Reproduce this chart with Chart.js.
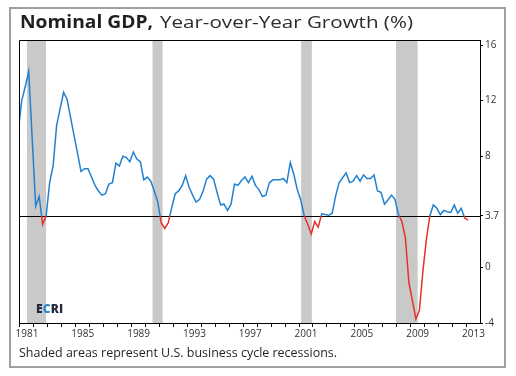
<!DOCTYPE html>
<html>
<head>
<meta charset="utf-8">
<script src="https://cdn.jsdelivr.net/npm/chart.js@4.4.0/dist/chart.umd.min.js"></script>
<style>
  html, body { margin: 0; padding: 0; background: #fff; }
  #wrap { position: relative; width: 516px; height: 376px; overflow: hidden; background: #fff; }
  #frame { position: absolute; left: 9px; top: 7px; width: 497px; height: 361px; border: 2px solid #a0a0a0; box-sizing: border-box; }
  #chart { position: absolute; left: 0; top: 0; }
  .fit { position: absolute; white-space: nowrap; transform-origin: 0 50%; font-family: "Open Sans", sans-serif; color: #231f20; }
  #t1 { left: 20px; top: 11px; font-size: 17px; line-height: 22px; font-weight: 700; }
  #t2 { left: 160px; top: 11px; font-size: 17px; line-height: 22px; font-weight: 400; color: #2b2b2b; }
  #note { left: 19px; top: 343px; font-size: 13px; line-height: 18px; font-weight: 400; }
  #ecri { position: absolute; left: 36px; top: 302px; font-family: "Open Sans", sans-serif; font-size: 12px; font-weight: 800; line-height: 14px; color: #232b3b; letter-spacing: 0.2px; }
  #ecri i { font-style: normal; color: #2a8ad6; }
</style>
</head>
<body>
<div id="wrap">
  <canvas id="chart" width="516" height="376"></canvas>
  <div id="frame"></div>
  <div id="t1" class="fit" data-w="133">Nominal GDP,</div>
  <div id="t2" class="fit" data-w="253">Year-over-Year Growth (%)</div>
  <div id="ecri">E<i>C</i>RI</div>
  <div id="note" class="fit" data-w="318">Shaded areas represent U.S. business cycle recessions.</div>
</div>
<script>
// ---- Data (quarterly, 1980Q4 .. 2013Q1) ----
const firstYear = 1980, firstQuarter = 4;
const gdpGrowth = [
  9.8,
  12.0, 13.0, 14.1, 9.3,    // 1981
  4.4, 5.1, 3.1, 3.7,       // 1982
  6.1, 7.3, 10.2, 11.4,     // 1983
  12.6, 12.1, 10.8, 9.5,    // 1984
  8.2, 6.9, 7.1, 7.1,       // 1985
  6.5, 5.9, 5.5, 5.2,       // 1986
  5.3, 6.0, 6.1, 7.5,       // 1987
  7.3, 8.0, 7.9, 7.6,       // 1988
  8.3, 7.8, 7.6, 6.3,       // 1989
  6.5, 6.2, 5.5, 4.7,       // 1990
  3.2, 2.8, 3.2, 4.3,       // 1991
  5.3, 5.5, 5.9, 6.6,       // 1992
  5.75, 5.2, 4.7, 4.9,      // 1993
  5.5, 6.35, 6.6, 6.35,     // 1994
  5.4, 4.5, 4.55, 4.1,      // 1995
  4.55, 6.0, 5.9, 6.25,     // 1996
  6.5, 6.1, 6.55, 5.9,      // 1997
  5.6, 5.1, 5.2, 6.1,       // 1998
  6.3, 6.3, 6.3, 6.4,       // 1999
  6.1, 7.55, 6.7, 5.6,      // 2000
  4.85, 3.7, 3.1, 2.4,      // 2001
  3.3, 2.9, 3.85, 3.8,      // 2002
  3.75, 3.9, 5.15, 6.1,     // 2003
  6.45, 6.8, 6.1, 6.2,      // 2004
  6.6, 6.2, 6.65, 6.4,      // 2005
  6.4, 6.65, 5.5, 5.4,      // 2006
  4.55, 4.85, 5.2, 4.9,     // 2007
  3.8, 3.3, 2.1, -1.1,      // 2008
  -2.4, -3.7, -3.1, -0.3,   // 2009
  2.0, 3.7, 4.5, 4.25,      // 2010
  3.8, 4.1, 4.0, 3.95,      // 2011
  4.5, 3.9, 4.25, 3.55,     // 2012
  3.4                       // 2013
];
// Recessions (decimal years)
const recessionStart = [1981.5, 1990.5, 2001.15, 2007.95];
const recessionEnd   = [1982.87, 1991.22, 2001.92, 2009.5];
// Tick labels
const yTickValues = [-4, 0, 3.7, 8, 12, 16];
const xYears = [];
for (let y = 1981; y <= 2013; y++) xYears.push(y);
const xLabelYears = [1981, 1985, 1989, 1993, 1997, 2001, 2005, 2009, 2013];
const threshold = 3.7;

// fit text blocks horizontally to the reference widths
document.querySelectorAll('.fit').forEach(el => {
  const w = el.getBoundingClientRect().width;
  const target = parseFloat(el.dataset.w);
  if (w > 0) el.style.transform = 'scaleX(' + (target / w) + ')';
});

// quarter midpoints as decimal years
const quarterTimes = gdpGrowth.map((_, i) => {
  const qIndex = (firstQuarter - 1) + i;
  return firstYear + Math.floor(qIndex / 4) + ((qIndex % 4) + 0.5) / 4;
});
const points = gdpGrowth.map((v, i) => ({ x: quarterTimes[i], y: v }));

const BLUE = '#2180d0', RED = '#e5322a', SHADE = '#c9c9c9';

const bgPlugin = {
  id: 'bg',
  beforeDatasetsDraw(chart) {
    const { ctx, chartArea: a, scales: { x, y } } = chart;
    ctx.save();
    ctx.fillStyle = SHADE;
    for (let i = 0; i < recessionStart.length; i++) {
      const x1 = x.getPixelForValue(recessionStart[i]);
      const x2 = x.getPixelForValue(recessionEnd[i]);
      ctx.fillRect(x1, a.top, x2 - x1, a.bottom - a.top);
    }
    const yy = Math.round(y.getPixelForValue(threshold)) + 0.5;
    ctx.strokeStyle = '#000';
    ctx.lineWidth = 1;
    ctx.beginPath();
    ctx.moveTo(a.left, yy);
    ctx.lineTo(a.right, yy);
    ctx.stroke();
    ctx.restore();
  },
  afterDraw(chart) {
    const { ctx, chartArea: a } = chart;
    ctx.save();
    ctx.strokeStyle = '#000';
    ctx.lineWidth = 1;
    ctx.beginPath();
    ctx.moveTo(Math.round(a.left) + 0.5, a.bottom);
    ctx.lineTo(Math.round(a.left) + 0.5, Math.round(a.top) + 0.5);
    ctx.lineTo(a.right, Math.round(a.top) + 0.5);
    ctx.stroke();
    ctx.restore();
  }
};

function lineColor(context) {
  const chart = context.chart;
  const { ctx, chartArea, scales } = chart;
  if (!chartArea) return BLUE;
  const yT = scales.y.getPixelForValue(threshold);
  const g = ctx.createLinearGradient(0, chartArea.top, 0, chartArea.bottom);
  const f = Math.min(1, Math.max(0, (yT - chartArea.top) / (chartArea.bottom - chartArea.top)));
  g.addColorStop(0, BLUE);
  g.addColorStop(f, BLUE);
  g.addColorStop(f, RED);
  g.addColorStop(1, RED);
  return g;
}

new Chart(document.getElementById('chart'), {
  type: 'line',
  data: {
    datasets: [{
      data: points,
      borderColor: lineColor,
      borderWidth: 1.5,
      pointRadius: 0,
      tension: 0,
      fill: false
    }]
  },
  options: {
    responsive: false,
    animation: false,
    devicePixelRatio: 1,
    layout: { padding: { left: 19, top: 40, right: 0, bottom: 33 } },
    plugins: { legend: { display: false }, tooltip: { enabled: false }, title: { display: false } },
    scales: {
      x: {
        type: 'linear',
        min: 1980.93,
        max: 2013.97,
        afterBuildTicks(scale) { scale.ticks = xYears.map(v => ({ value: v })); },
        afterFit(scale) { scale.height = 20; },
        grid: { display: true, drawOnChartArea: false, drawTicks: true, tickLength: 4, color: '#000', lineWidth: 1 },
        border: { display: true, color: '#000', width: 1 },
        ticks: {
          autoSkip: false, maxRotation: 0, minRotation: 0, padding: 1, labelOffset: 7,
          color: '#333', font: { family: 'Open Sans', size: 10 },
          callback: (v) => xLabelYears.includes(v) ? String(v) : ''
        }
      },
      y: {
        position: 'right',
        min: -4,
        max: 16.36,
        afterBuildTicks(scale) { scale.ticks = yTickValues.map(v => ({ value: v })); },
        afterFit(scale) { scale.width = 36; },
        grid: { display: true, drawOnChartArea: false, drawTicks: true, tickLength: 3, color: '#000', lineWidth: 1 },
        border: { display: true, color: '#000', width: 1 },
        ticks: {
          autoSkip: false, padding: 2,
          color: '#333', font: { family: 'Open Sans', size: 10 },
          callback: (v) => String(v)
        }
      }
    }
  },
  plugins: [bgPlugin]
});
</script>
</body>
</html>
